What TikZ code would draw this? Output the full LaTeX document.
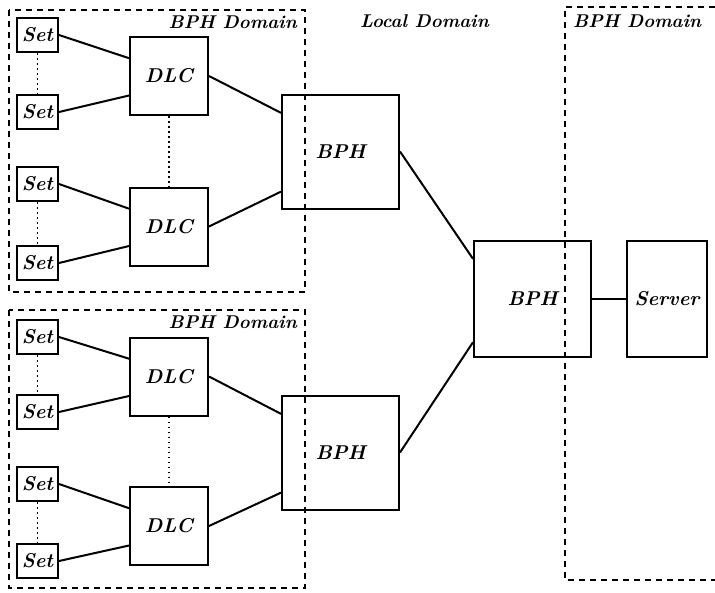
\documentclass[tikz,border=0pt]{standalone}
\usetikzlibrary{calc}
\begin{document}
\begin{tikzpicture}[x=1pt,y=-1pt,
  box/.style={draw,line width=2pt,inner sep=0pt,font=\fontsize{20}{22}\selectfont\bfseries\itshape},
  setbox/.style={box,minimum width=41pt,minimum height=34pt},
  dlcbox/.style={box,minimum width=78pt,minimum height=78pt},
  bphbox/.style={box,minimum width=117pt,minimum height=114pt},
  srvbox/.style={box,minimum width=80pt,minimum height=116pt},
  link/.style={line width=2pt},
  dots/.style={line width=1.6pt,dash pattern=on 1.6pt off 3.4pt},
  domframe/.style={line width=2.2pt,dash pattern=on 6pt off 5pt},
  lbl/.style={inner sep=0pt,font=\fontsize{18.5}{20}\selectfont\bfseries\itshape}]
\useasboundingbox (0,0) rectangle (715,592);
% domains
\draw[domframe] (9,10) rectangle (305,292);
\draw[domframe] (9,310) rectangle (305,588);
\draw[domframe] (715,7) -- (565,7) -- (565,580) -- (715,580);
\node[lbl,anchor=base east] (l1) at (297,28) {BPH Domain};
\node[lbl,anchor=base east] (l2) at (297,328) {BPH Domain};
\node[lbl,anchor=base west] (l3) at (360,27) {Local Domain};
\node[lbl,anchor=base west] (l4) at (573,27) {BPH Domain};
% top domain
\node[setbox] (s1) at (37.5,35) {Set};
\node[setbox] (s2) at (37.5,112) {Set};
\node[setbox] (s3) at (37.5,184) {Set};
\node[setbox] (s4) at (37.5,263) {Set};
\node[dlcbox] (d1) at (169,76) {DLC};
\node[dlcbox] (d2) at (169,226.5) {DLC};
\node[bphbox] (b1) at (340.5,151.5) {BPH};
% bottom domain
\node[setbox] (s5) at (37.5,337) {Set};
\node[setbox] (s6) at (37.5,412) {Set};
\node[setbox] (s7) at (37.5,484) {Set};
\node[setbox] (s8) at (37.5,561) {Set};
\node[dlcbox] (d3) at (169,376.5) {DLC};
\node[dlcbox] (d4) at (169,526) {DLC};
\node[bphbox] (b2) at (340.5,452.5) {BPH};
% centre
\node[bphbox,minimum height=116pt] (bc) at (532.5,299) {BPH};
\node[srvbox] (sv) at (667,299) {Server};
% links
\foreach \s/\d/\a in {s1/d1/156,s2/d1/206,s3/d2/156,s4/d2/206,s5/d3/156,s6/d3/206,s7/d4/156,s8/d4/206}
  \draw[link] (\s.east) -- (\d.\a);
\draw[link] (d1.east) -- (b1.147);
\draw[link] (d2.east) -- (b1.214);
\draw[link] (d3.east) -- (b2.147);
\draw[link] (d4.east) -- (b2.214);
\draw[link] (b1.east) -- (bc.146);
\draw[link] (b2.east) -- (bc.216);
\draw[link] (bc.east) -- (sv.west);
% dotted
\draw[dots] (s1.south) -- (s2.north);
\draw[dots] (s3.south) -- (s4.north);
\draw[dots] (s5.south) -- (s6.north);
\draw[dots] (s7.south) -- (s8.north);
\draw[dots] (d1.south) -- (d2.north);
\draw[dots] (d3.south) -- (d4.north);
\end{tikzpicture}
\end{document}
